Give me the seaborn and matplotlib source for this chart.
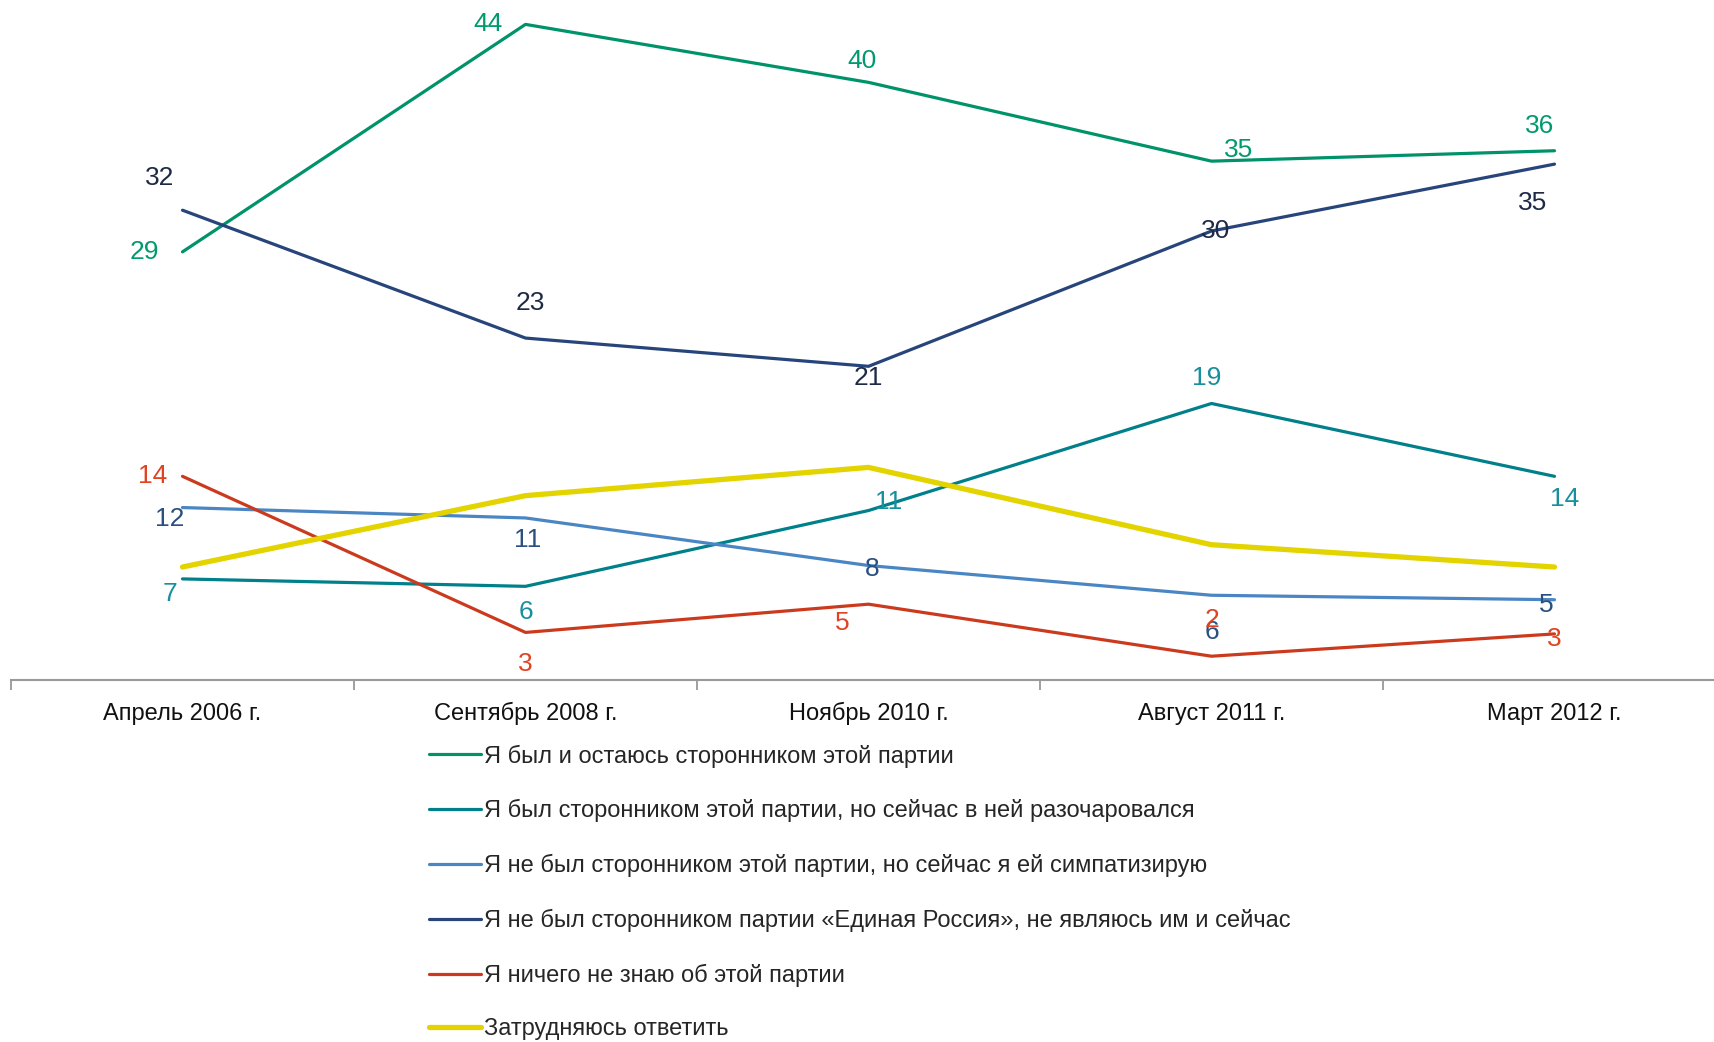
import pandas as pd
import matplotlib
matplotlib.use("Agg")
import matplotlib.pyplot as plt
import seaborn as sns

# Данные
periods = ["Апрель 2006 г.", "Сентябрь 2008 г.", "Ноябрь 2010 г.", "Август 2011 г.", "Март 2012 г."]

series_names = [
    "Я был и остаюсь сторонником этой партии",
    "Я был сторонником этой партии, но сейчас в ней разочаровался",
    "Я не был сторонником этой партии, но сейчас я ей симпатизирую",
    "Я не был сторонником партии «Единая Россия», не являюсь им и сейчас",
    "Я ничего не знаю об этой партии",
    "Затрудняюсь ответить",
]

supporters = [28.8, 44.1, 40.2, 34.9, 35.6]
disappointed = [6.8, 6.3, 11.4, 18.6, 13.7]
sympathize = [11.6, 10.9, 7.7, 5.7, 5.4]
never_supporter = [31.6, 23.0, 21.1, 30.2, 34.7]
know_nothing = [13.7, 3.2, 5.1, 1.6, 3.1]
hard_to_say = [7.6, 12.4, 14.3, 9.1, 7.6]

values = [supporters, disappointed, sympathize, never_supporter, know_nothing, hard_to_say]

# Стиль
line_colors = ["#00936a", "#00808a", "#4a86c4", "#27457b", "#cc3a1e", "#e3d400"]
label_colors = ["#009a6e", "#178f9c", "#2b4f80", "#1e2a45", "#e04322", None]
widths = [2.3, 2.3, 2.3, 2.3, 2.3, 3.8]

# смещения подписей (пиксели)
offsets = [
    [(-38, 0), (-38, 0), (-7, 21), (27, 11), (-15, 25)],
    [(-13, -15), (0, -26), (20, 9), (-5, 25), (10, -23)],
    [(-13, -11), (2, -22), (4, -3), (0, -37), (-8, -5)],
    [(-23, 32), (5, 35), (0, -12), (4, 0), (-22, -39)],
    [(-30, 0), (0, -32), (-26, -19), (0, 36), (0, -5)],
    None,
]

rows = []
for name, vals in zip(series_names, values):
    for i, v in enumerate(vals):
        rows.append({"period": i, "value": v, "series": name})
df = pd.DataFrame(rows)

sns.set_style("white")
font = ["Liberation Sans Narrow", "Liberation Sans", "DejaVu Sans"]
plt.rcParams["font.family"] = font

fig = plt.figure(figsize=(17.15, 10.42), dpi=100)
ax = fig.add_axes([11 / 1715, 1 - 680 / 1042, 1.0, 669 / 1042])

sns.lineplot(data=df, x="period", y="value", hue="series", hue_order=series_names,
             palette=line_colors, ax=ax, legend=False)
for line, w in zip(ax.lines, widths):
    line.set_linewidth(w)
    line.set_solid_capstyle("round")

for vals, col, offs in zip(values, label_colors, offsets):
    if offs is None:
        continue
    for i, v in enumerate(vals):
        ax.annotate(f"{v:.0f}", (i, v), xytext=offs[i], textcoords="offset pixels",
                    ha="center", va="center", fontsize=19, color=col)

ax.set_xlim(-0.5, 4.5)
ax.set_ylim(0, 45)
ax.set_xticks(range(len(periods)))
ax.set_xticklabels(periods, fontsize=17, color="#111111")
for lab in ax.get_xticklabels():
    lab.set_verticalalignment("baseline")
ax.set_xticks([i - 0.5 for i in range(len(periods) + 1)], minor=True)
ax.tick_params(axis="x", which="major", length=0, pad=29)
ax.tick_params(axis="x", which="minor", bottom=True, length=7, width=1.3,
               color="#999999", direction="out")
ax.set_yticks([])
ax.set_xlabel("")
ax.set_ylabel("")
for s in ["top", "right", "left"]:
    ax.spines[s].set_visible(False)
ax.spines["bottom"].set_color("#999999")
ax.spines["bottom"].set_linewidth(1.5)

# Легенда
handles = [plt.Line2D([], [], color=c, lw=w) for c, w in zip(line_colors, [2.3] * 5 + [3.8])]
fig.legend(handles, series_names, loc="upper left", bbox_to_anchor=(420 / 1715, 1 - 735 / 1042),
           frameon=False, fontsize=17, handlelength=2.2, handletextpad=0.1, labelspacing=1.34,
           borderaxespad=0)

plt.savefig("out.png", dpi=100)
